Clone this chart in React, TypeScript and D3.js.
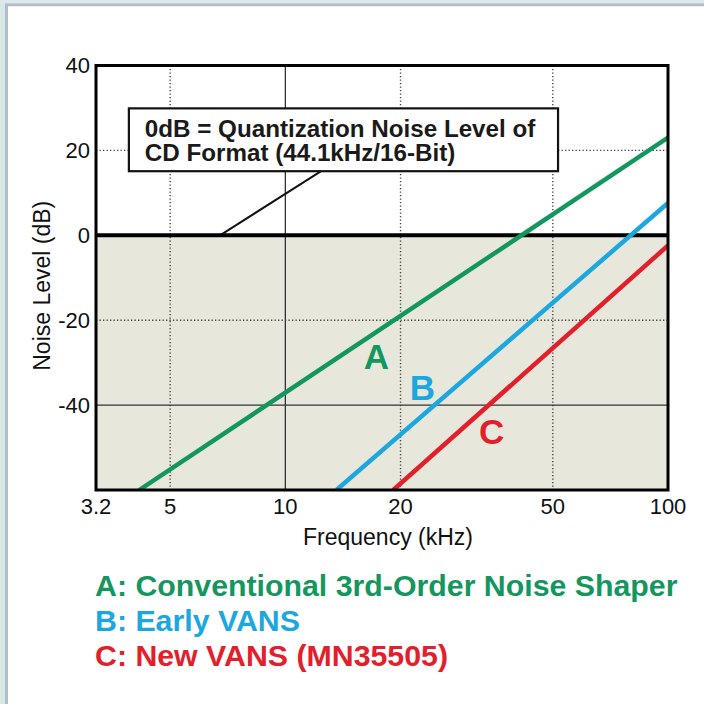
import React from "react";
import * as d3 from "d3";

// ---- data ----
const xTicks = [3.2, 5, 10, 20, 50, 100];
const xTickLabels = ["3.2", "5", "10", "20", "50", "100"];
const yTicks = [40, 20, 0, -20, -40];
const yTickLabels = ["40", "20", "0", "-20", "-40"];
const xDottedGrid = [5, 20, 50];
const xSolidGrid = [10];
const yDottedGrid = [20, -20];
const ySolidGrid = [-40];

const seriesNames = ["A", "B", "C"];
const seriesColors = ["#14975f", "#1ca8df", "#e2202b"];
const seriesA: [number, number][] = [[4.15, -60], [100, 23]];
const seriesB: [number, number][] = [[13.6, -60], [100, 7.6]];
const seriesC: [number, number][] = [[19.15, -60], [100, -2.4]];
const seriesData = [seriesA, seriesB, seriesC];
const labelPos: [number, number][] = [[17.3, -28.5], [22.8, -35.8], [34.6, -46.3]];

const legendTexts = [
  "A: Conventional 3rd-Order Noise Shaper",
  "B: Early VANS",
  "C: New VANS (MN35505)",
];
const noteLines = ["0dB = Quantization Noise Level of", "CD Format (44.1kHz/16-Bit)"];
// annotation box corners and leader (data units)
const noteBox = { f0: 3.9, f1: 51.6, db0: 29.9, db1: 15.1 };
const leader: [number, number][] = [[6.75, 0], [12.4, 15.1]];

const W = 704, H = 704;
const M = { left: 96, right: 668, top: 65.5, bottom: 490 };
const FONT = "'Liberation Sans', Arial, Helvetica, sans-serif";

export default function App() {
  const x = d3.scaleLog().domain([3.2, 100]).range([M.left, M.right]);
  const y = d3.scaleLinear().domain([-60, 40]).range([M.bottom, M.top]);
  const line = d3.line<[number, number]>().x(d => x(d[0])).y(d => y(d[1]));

  return (
    <svg width={W} height={H} style={{ position: "absolute", left: 0, top: 0 }} fontFamily={FONT}>
      <defs>
        <clipPath id="plotclip">
          <rect x={M.left} y={M.top} width={M.right - M.left} height={M.bottom - M.top} />
        </clipPath>
      </defs>
      {/* page */}
      <rect x={0} y={0} width={W} height={H} fill="#ffffff" />
      <rect x={0} y={0} width={6} height={H} fill="#d6e7e6" />
      <rect x={0} y={0} width={W} height={3.5} fill="#dce8ea" />
      <line x1={6.5} y1={4.5} x2={6.5} y2={H} stroke="#b3bccb" strokeWidth={3} />
      <line x1={5} y1={4.8} x2={W} y2={4.8} stroke="#b3bccb" strokeWidth={3} />

      {/* shaded region below 0 dB */}
      <rect x={M.left} y={y(0)} width={M.right - M.left} height={M.bottom - y(0)} fill="#e7e7dc" />

      {/* grid */}
      {xDottedGrid.map(v => (
        <line key={"xd" + v} x1={x(v)} x2={x(v)} y1={M.top} y2={M.bottom}
          stroke="#444" strokeWidth={1.4} strokeDasharray="1.3,2.2" />
      ))}
      {xSolidGrid.map(v => (
        <line key={"xs" + v} x1={x(v)} x2={x(v)} y1={M.top} y2={M.bottom} stroke="#333" strokeWidth={1.3} />
      ))}
      {yDottedGrid.map(v => (
        <line key={"yd" + v} x1={M.left} x2={M.right} y1={y(v)} y2={y(v)}
          stroke="#444" strokeWidth={1.4} strokeDasharray="1.3,2.2" />
      ))}
      {ySolidGrid.map(v => (
        <line key={"ys" + v} x1={M.left} x2={M.right} y1={y(v)} y2={y(v)} stroke="#333" strokeWidth={1.3} />
      ))}

      {/* annotation box */}
      <rect x={x(noteBox.f0)} y={y(noteBox.db0)} width={x(noteBox.f1) - x(noteBox.f0)}
        height={y(noteBox.db1) - y(noteBox.db0)} fill="#fff" stroke="#111" strokeWidth={2.2} />
      <line x1={x(leader[0][0])} y1={y(leader[0][1])} x2={x(leader[1][0])} y2={y(leader[1][1])}
        stroke="#111" strokeWidth={2} />
      {noteLines.map((t, i) => (
        <text key={t} x={x(noteBox.f0) + 16} y={y(noteBox.db0) + 28.5 + i * 24.5}
          fontSize={24.2} fontWeight="bold" fill="#1a1a1a">{t}</text>
      ))}

      {/* zero line */}
      <line x1={M.left} x2={M.right} y1={y(0)} y2={y(0)} stroke="#000" strokeWidth={4} />

      {/* curves */}
      <g clipPath="url(#plotclip)">
        {seriesData.map((s, i) => (
          <path key={seriesNames[i]} d={line(s) || ""} fill="none" stroke={seriesColors[i]}
            strokeWidth={4.5} />
        ))}
      </g>
      {seriesNames.map((n, i) => (
        <text key={"lab" + n} x={x(labelPos[i][0])} y={y(labelPos[i][1])} dy="0.36em"
          textAnchor="middle" fontSize={35} fontWeight="bold" fill={seriesColors[i]}>{n}</text>
      ))}

      {/* frame */}
      <rect x={M.left} y={M.top} width={M.right - M.left} height={M.bottom - M.top}
        fill="none" stroke="#000" strokeWidth={3} />

      {/* tick labels */}
      {xTicks.map((v, i) => (
        <text key={"xt" + v} x={x(v)} y={M.bottom + 24} textAnchor="middle" fontSize={22} fill="#111">
          {xTickLabels[i]}
        </text>
      ))}
      {yTicks.map((v, i) => (
        <text key={"yt" + v} x={M.left - 6} y={y(v)} dy="0.36em" textAnchor="end" fontSize={22} fill="#111">
          {yTickLabels[i]}
        </text>
      ))}

      {/* axis titles */}
      <text x={(M.left + M.right) / 2 + 6} y={545} textAnchor="middle" fontSize={23} fill="#111">
        Frequency (kHz)
      </text>
      <text transform={`translate(50,${(M.top + M.bottom) / 2 + 8}) rotate(-90)`} textAnchor="middle"
        fontSize={23} fill="#111">Noise Level (dB)</text>

      {/* legend */}
      {legendTexts.map((t, i) => (
        <text key={t} x={95} y={596 + i * 35} fontSize={30.3} fontWeight="bold" fill={seriesColors[i]}>
          {t}
        </text>
      ))}
    </svg>
  );
}
